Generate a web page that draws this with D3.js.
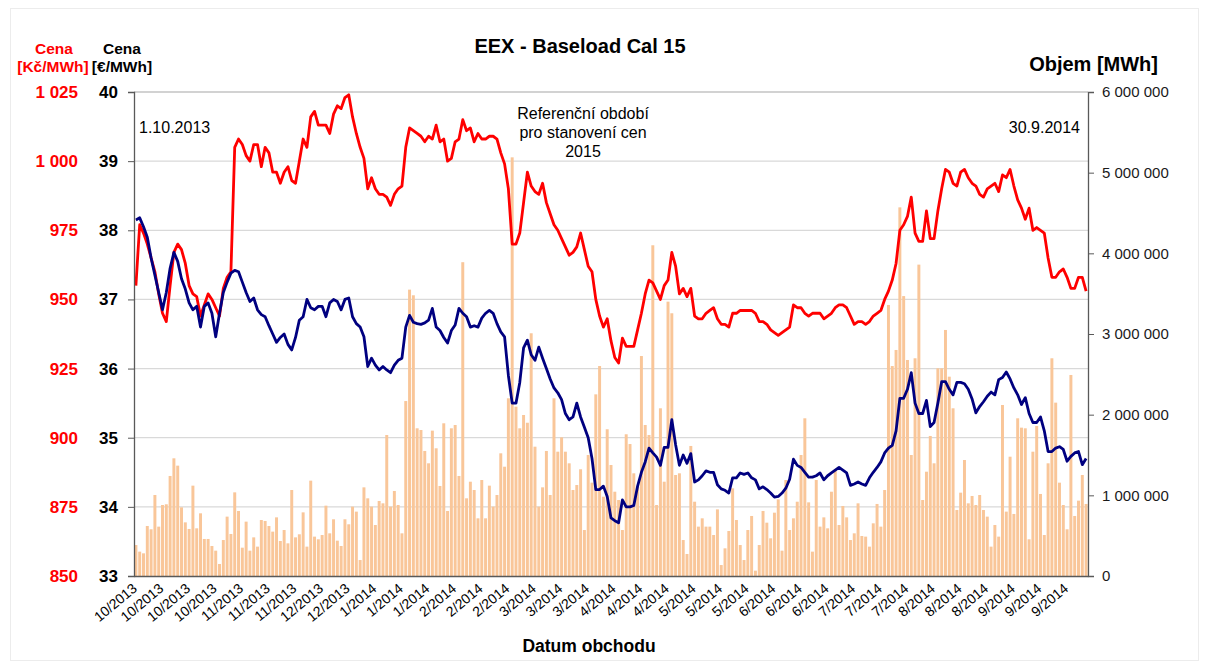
<!DOCTYPE html>
<html><head><meta charset="utf-8">
<script src="https://cdn.jsdelivr.net/npm/d3@7/dist/d3.min.js"></script>
<style>body{margin:0;background:#fff;}svg{display:block;font-family:"Liberation Sans",Arial,sans-serif;}</style>
</head><body><svg id="c" width="1209" height="670"></svg>
<script>
// ---- data ----
const xLabels = ["10/2013","10/2013","10/2013","10/2013","11/2013","11/2013","11/2013","12/2013","12/2013",
"1/2014","1/2014","1/2014","2/2014","2/2014","2/2014","3/2014","3/2014","3/2014","4/2014","4/2014","4/2014",
"5/2014","5/2014","5/2014","6/2014","6/2014","6/2014","7/2014","7/2014","7/2014","8/2014","8/2014","8/2014",
"9/2014","9/2014","9/2014"];
const labelEvery = 7;
const eurTicks = [33,34,35,36,37,38,39,40];
const czkTicks = [850,875,900,925,950,975,1000,1025];
const volTicks = [0,1e6,2e6,3e6,4e6,5e6,6e6];

// volume [MWh], thousands
const volumeK = [384,302,281,620,579,1004,612,880,889,1240,1459,1368,851,665,583,1120,591,777,459,459,
372,314,149,446,736,521,1037,806,351,674,314,479,364,694,682,620,550,727,434,570,
405,1066,479,517,789,364,1182,488,455,508,872,529,703,438,372,703,641,860,798,198,
1099,963,860,632,930,901,1748,860,1054,880,529,2169,3550,3480,1831,1810,1550,1397,1802,1583,
1116,1893,806,1831,1872,1240,3890,963,1169,1066,715,1190,715,1120,860,1004,1521,1355,2203,5190,
2099,1831,1996,1900,3009,1603,860,1099,1550,1004,2203,1541,1719,1541,1397,1066,1128,1323,570,1500,
1157,2252,2603,983,1819,1376,1045,942,570,1757,1636,1273,1107,2727,1872,1748,4100,880,2079,1169,
3401,3257,1252,1273,446,273,1612,921,612,715,612,612,508,826,136,343,558,1087,694,384,
198,570,744,66,384,806,661,467,785,950,314,1190,570,715,921,1500,1955,913,302,1190,
612,727,591,1045,1323,632,868,727,446,529,901,496,488,364,653,893,612,1066,3360,2603,
2802,4570,3470,2678,1500,2699,3860,942,1293,1736,1397,2575,2575,3050,2471,2079,818,1033,1438,901,
992,880,1004,818,736,364,632,488,2120,798,1479,769,1955,1839,1831,455,1541,1860,1017,508,
1397,2699,2149,1157,880,579,2492,744,934,1252,893];

// price EUR/MWh
const priceEur = [38.15,38.18,38.05,37.9,37.6,37.35,37.1,36.85,37.1,37.45,37.68,37.55,37.3,37.15,36.95,36.85,36.9,36.6,36.9,36.95,
36.8,36.46,36.8,37.1,37.25,37.38,37.42,37.4,37.25,37.1,36.97,37.02,36.85,36.78,36.75,36.62,36.5,36.38,36.45,36.5,
36.35,36.27,36.45,36.7,36.75,37.0,36.88,36.85,36.9,36.9,36.75,36.95,37.0,36.97,36.85,37.0,37.02,36.75,36.65,36.6,
36.46,36.03,36.15,36.05,35.98,36.03,35.98,35.94,36.05,36.12,36.15,36.6,36.77,36.67,36.65,36.64,36.66,36.7,36.87,36.6,
36.55,36.45,36.37,36.55,36.63,36.87,36.8,36.75,36.6,36.62,36.6,36.73,36.8,36.84,36.8,36.65,36.53,36.46,35.9,35.5,
35.5,35.8,36.3,36.41,36.2,36.12,36.31,36.15,36.0,35.85,35.72,35.65,35.55,35.35,35.26,35.3,35.5,35.3,35.15,35.0,
34.7,34.25,34.25,34.3,34.15,33.84,33.8,33.77,34.1,34.0,34.0,34.02,34.3,34.5,34.65,34.85,34.78,34.72,34.6,34.86,
34.86,35.26,34.9,34.6,34.75,34.63,34.77,34.36,34.39,34.45,34.52,34.5,34.5,34.32,34.26,34.24,34.2,34.42,34.42,34.49,
34.47,34.49,34.42,34.39,34.26,34.29,34.25,34.2,34.14,34.15,34.2,34.27,34.4,34.69,34.6,34.57,34.5,34.43,34.43,34.45,
34.49,34.39,34.45,34.49,34.53,34.57,34.53,34.49,34.31,34.33,34.36,34.33,34.31,34.42,34.5,34.57,34.65,34.78,34.85,34.89,
35.1,35.57,35.57,35.7,35.94,35.5,35.35,35.35,35.54,35.16,35.22,35.5,35.81,35.81,35.7,35.62,35.8,35.8,35.78,35.7,
35.56,35.36,35.45,35.52,35.6,35.66,35.62,35.84,35.87,35.95,35.85,35.72,35.62,35.48,35.58,35.35,35.22,35.22,35.3,35.1,
34.8,34.8,34.85,34.87,34.83,34.66,34.73,34.78,34.8,34.61,34.7];

// price CZK/MWh
const priceCzk = [955,977,974,970,965,960,952,945,942,955,967,970,968,963,955,952,951,944,948,952,
950,947,944,954,958,960,1005,1008,1006,1002,1000,1006,1006,998,1005,1003,996,996,992,996,
998,993,992,1000,1008,1005,1016,1018,1013,1013,1013,1010,1017,1020,1019,1023,1024,1016,1010,1005,
1001,990,994,990,988,988,987,984,988,990,991,1005,1012,1011,1010,1009,1007,1009,1008,1013,
1007,1008,1000,1001,1007,1008,1015,1011,1012,1007,1010,1008,1008,1009,1009,1008,1003,999,990,970,
970,974,985,996,991,989,988,992,985,981,977,975,972,969,966,967,969,974,968,962,
960,950,944,940,943,935,929,927,936,933,933,933,939,945,952,957,956,953,950,955,
957,967,962,952,954,951,954,944,943,943,945,946,947,943,941,941,940,945,945,946,
946,946,946,945,942,942,941,939,938,937,938,939,940,948,947,947,945,944,945,945,
945,943,944,945,947,948,948,947,944,941,942,942,941,942,944,945,946,950,953,957,
963,975,977,980,987,974,971,971,982,972,972,982,990,997,996,992,991,996,997,994,
992,991,988,987,990,991,992,989,995,994,997,991,986,983,979,983,975,976,975,974,
965,958,958,960,961,958,954,954,958,958,953];

// ---- layout ----
const L = 134, R = 1088, T = 92, B = 576;
const svg = d3.select("#c");
const N = volumeK.length;
const idx = d3.range(N);

const x = d3.scaleBand().domain(idx).range([L, R]).paddingInner(0.22).paddingOuter(0.11);
const cx = i => x(i) + x.bandwidth() / 2;
const yEur = d3.scaleLinear().domain([33, 40]).range([B, T]);
const yCzk = d3.scaleLinear().domain([850, 1025]).range([B, T]);
const yVol = d3.scaleLinear().domain([0, 6e6]).range([B, T]);
const spaceFmt = d3.formatLocale({decimal: ",", thousands: " ", grouping: [3], currency: ["", ""]}).format(",d");

// outer frame
svg.append("rect").attr("x", 10.5).attr("y", 8.5).attr("width", 1188).attr("height", 652)
  .attr("fill", "none").attr("stroke", "#ececec");

// gridlines
svg.append("g").selectAll("line").data(eurTicks.filter(v => v > 33)).join("line")
  .attr("x1", L).attr("x2", R).attr("y1", d => yEur(d)).attr("y2", d => yEur(d))
  .attr("stroke", d => d === 40 ? "#a6a6a6" : "#d9d9d9").attr("stroke-width", 1.2);

// bars
svg.append("g").selectAll("rect").data(idx).join("rect")
  .attr("x", i => x(i)).attr("width", x.bandwidth())
  .attr("y", i => yVol(volumeK[i] * 1000))
  .attr("height", i => B - yVol(volumeK[i] * 1000))
  .attr("fill", "#F9C699");

// lines
const lineEur = d3.line().x((d, i) => cx(i)).y(d => yEur(d));
const lineCzk = d3.line().x((d, i) => cx(i)).y(d => yCzk(d));
svg.append("path").datum(priceCzk).attr("d", lineCzk).attr("fill", "none")
  .attr("stroke", "#FF0000").attr("stroke-width", 2.8).attr("stroke-linejoin", "round");
svg.append("path").datum(priceEur).attr("d", lineEur).attr("fill", "none")
  .attr("stroke", "#000080").attr("stroke-width", 2.8).attr("stroke-linejoin", "round");

// left EUR axis
const gE = svg.append("g").attr("transform", `translate(${L},0)`)
  .call(d3.axisLeft(yEur).tickValues(eurTicks).tickSize(6).tickPadding(10).tickFormat(d3.format("d")));
gE.select(".domain").attr("stroke", "#595959").attr("stroke-width", 1.3);
gE.selectAll(".tick line").attr("stroke", "#595959");
gE.selectAll("text").attr("font-size", 17).attr("font-weight", "bold").attr("fill", "#000")
  .style("font-family", "'Liberation Sans', Arial, sans-serif");

// left CZK labels
const gC = svg.append("g").attr("transform", `translate(${L},0)`)
  .call(d3.axisLeft(yCzk).tickValues(czkTicks).tickSize(0).tickPadding(56).tickFormat(spaceFmt));
gC.select(".domain").remove();
gC.selectAll("text").attr("font-size", 17).attr("font-weight", "bold").attr("fill", "#FF0000")
  .style("font-family", "'Liberation Sans', Arial, sans-serif");

// right volume axis
const gV = svg.append("g").attr("transform", `translate(${R},0)`)
  .call(d3.axisRight(yVol).tickValues(volTicks).tickSize(6).tickPadding(8).tickFormat(spaceFmt));
gV.select(".domain").attr("stroke", "#595959").attr("stroke-width", 1.3);
gV.selectAll(".tick line").attr("stroke", "#595959");
gV.selectAll("text").attr("font-size", 15).attr("fill", "#1a1a1a")
  .style("font-family", "'Liberation Sans', Arial, sans-serif");

// bottom axis
const tickIdx = xLabels.map((_, k) => k * labelEvery);
const gX = svg.append("g").attr("transform", `translate(0,${B})`)
  .call(d3.axisBottom(x).tickValues(tickIdx).tickSize(0).tickFormat(i => xLabels[i / labelEvery]));
gX.select(".domain").attr("stroke", "#595959").attr("stroke-width", 1.3);
gX.selectAll("text")
  .attr("font-size", 14).attr("fill", "#000")
  .style("font-family", "'Liberation Sans', Arial, sans-serif")
  .attr("text-anchor", "end").attr("dy", 0).attr("y", 0)
  .attr("transform", "translate(2,14) rotate(-40)");

// texts
const txt = (s, xx, yy, o = {}) => svg.append("text").text(s).attr("x", xx).attr("y", yy)
  .attr("font-size", o.size || 16).attr("font-weight", o.bold ? "bold" : "normal")
  .attr("fill", o.color || "#000").attr("text-anchor", o.anchor || "start");
txt("EEX - Baseload Cal 15", 580, 53, {size: 20, bold: true, anchor: "middle"});
txt("Cena", 54, 54, {size: 15.5, bold: true, color: "#FF0000", anchor: "middle"});
txt("[Kč/MWh]", 53, 72, {size: 15.5, bold: true, color: "#FF0000", anchor: "middle"});
txt("Cena", 122, 54, {size: 15.5, bold: true, anchor: "middle"});
txt("[€/MWh]", 122, 72, {size: 15.5, bold: true, anchor: "middle"});
txt("Objem [MWh]", 1158, 71, {size: 20, bold: true, anchor: "end"});
txt("1.10.2013", 139, 133, {size: 16});
txt("30.9.2014", 1080, 133, {size: 16, anchor: "end"});
txt("Referenční období", 583, 119, {size: 16, anchor: "middle"});
txt("pro stanovení cen", 583, 138, {size: 16, anchor: "middle"});
txt("2015", 583, 157, {size: 16, anchor: "middle"});
txt("Datum obchodu", 589, 652, {size: 17.5, bold: true, anchor: "middle"});
</script></body></html>
